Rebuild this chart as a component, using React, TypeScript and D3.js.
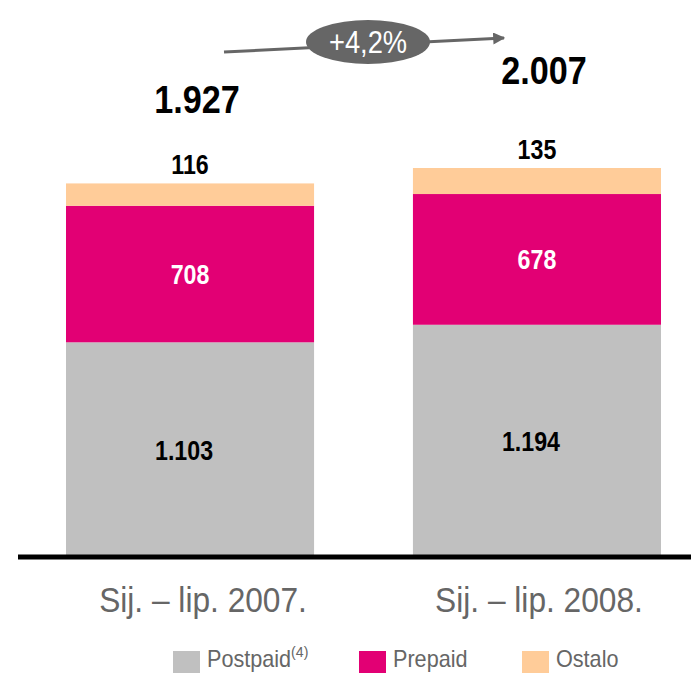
import React from 'react';
import * as d3 from 'd3';

const categories = ['Sij. – lip. 2007.', 'Sij. – lip. 2008.'];
const postpaid = [1103, 1194];
const prepaid = [708, 678];
const ostalo = [116, 135];
const totals = ['1.927', '2.007'];
const postpaidLabels = ['1.103', '1.194'];
const growthLabel = '+4,2%';

const seriesKeys = ['postpaid', 'prepaid', 'ostalo'];
const seriesNames = ['Postpaid', 'Prepaid', 'Ostalo'];
const colors = ['#c0c0c0', '#e20074', '#ffcc99'];

const font = '"Liberation Sans", Arial, sans-serif';

// narrow text: the original uses a condensed face, squeeze horizontally
function NText(props: any) {
  const { x, y, sx = 0.8, children, ...rest } = props;
  return (
    <g transform={`translate(${x},${y}) scale(${sx},1)`}>
      <text x={0} y={0} {...rest}>{children}</text>
    </g>
  );
}

export default function App() {
  const width = 691;
  const height = 673;

  const rows = categories.map((c, i) => ({ cat: c, postpaid: postpaid[i], prepaid: prepaid[i], ostalo: ostalo[i] }));
  const stack = d3.stack<any>().keys(seriesKeys)(rows);

  const x = d3.scaleBand().domain(categories).range([66, 661]).paddingInner(0.285).paddingOuter(0);
  const y = d3.scaleLinear().domain([0, 2007]).range([555, 168]);

  const cx = (c: string) => (x(c) as number) + x.bandwidth() / 2;

  return (
    <svg width={width} height={height} style={{ position: 'absolute', left: 0, top: 0 }} fontFamily={font}>
      <rect width={width} height={height} fill='#ffffff' />

      {/* bars */}
      {stack.map((s, si) => (
        <g key={s.key}>
          {s.map((d, i) => (
            <rect
              key={i}
              x={x(categories[i])}
              y={y(d[1])}
              width={x.bandwidth()}
              height={y(d[0]) - y(d[1])}
              fill={colors[si]}
            />
          ))}
        </g>
      ))}

      {/* baseline */}
      <line x1={18} x2={691} y1={557} y2={557} stroke='#000' strokeWidth={5} />

      {/* labels */}
      {categories.map((c, i) => (
        <g key={c} fontWeight='bold' textAnchor='middle'>
          <NText x={cx(c) - 6} y={(y(0) + y(postpaid[i])) / 2 + 11} fontSize={27} fill='#000' sx={0.86}>{postpaidLabels[i]}</NText>
          <NText x={cx(c)} y={(y(postpaid[i]) + y(postpaid[i] + prepaid[i])) / 2 + 10} fontSize={27} fill='#fff' sx={0.86}>{prepaid[i]}</NText>
          <NText x={cx(c)} y={y(postpaid[i] + prepaid[i] + ostalo[i]) - 9} fontSize={27} fill='#000' sx={0.86}>{ostalo[i]}</NText>
          <NText x={cx(c) + 7} y={y(postpaid[i] + prepaid[i] + ostalo[i]) - 70 - i * 14} fontSize={38} fill='#000' sx={0.9}>{totals[i]}</NText>
          <NText x={cx(c) + [13, 2][i]} y={612} fontSize={36} fontWeight='normal' fill='#666' sx={0.88}>{c}</NText>
        </g>
      ))}

      {/* growth arrow */}
      <defs>
        <marker id='arr' viewBox='0 0 10 10' refX={9} refY={5} markerWidth={4} markerHeight={4} orient='auto'>
          <path d='M0,0 L10,5 L0,10 z' fill='#666' />
        </marker>
      </defs>
      <line x1={224} y1={52} x2={504} y2={38} stroke='#666' strokeWidth={3} markerEnd='url(#arr)' />
      <ellipse cx={368} cy={42} rx={62} ry={22} fill='#666' />
      <NText x={368} y={53} textAnchor='middle' fontSize={31} fill='#fff' sx={0.88}>{growthLabel}</NText>

      {/* legend */}
      {seriesNames.map((n, i) => {
        const lx = [173, 359, 522][i];
        return (
          <g key={n}>
            <rect x={lx} y={651} width={27} height={27} fill={colors[i]} />
            <NText x={lx + 34} y={667} fontSize={23} fill='#666' sx={0.94}>
              {n}
              {i === 0 ? <tspan dy={-10} fontSize={15}>(4)</tspan> : null}
            </NText>
          </g>
        );
      })}
    </svg>
  );
}
